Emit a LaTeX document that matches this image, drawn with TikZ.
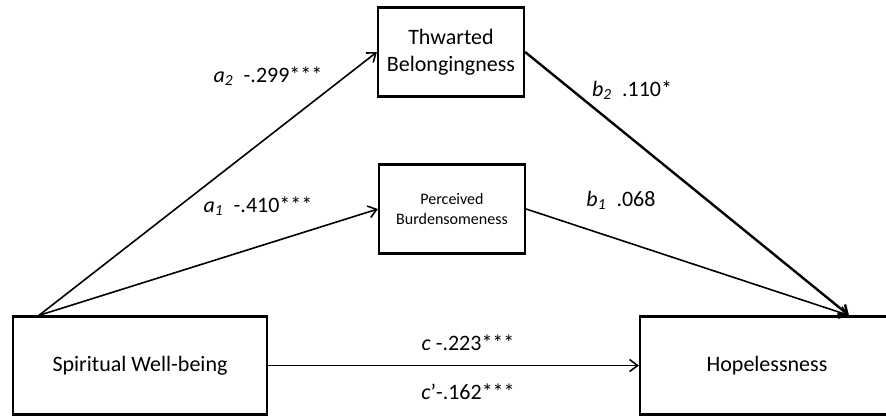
\documentclass[tikz,border=0pt]{standalone}
\usepackage{fontspec}
\setmainfont{Carlito}
\usetikzlibrary{positioning,arrows.meta}

\begin{document}
\begin{tikzpicture}[
				x=0.5pt, y=-0.5pt,
				box/.style={rectangle, draw=black, line width=1.1pt, align=center, inner sep=2pt, font=\fontsize{11}{13.5}\selectfont},
				bigbox/.style={box, minimum width=127pt, minimum height=49pt},
				midbox/.style={box, minimum width=73pt, minimum height=44.5pt},
				smallbox/.style={midbox, font=\fontsize{8}{10}\selectfont},
				coef/.style={inner sep=0pt, font=\fontsize{11}{13}\selectfont},
				link/.style={line width=0.8pt, -{Straight Barb[length=4pt, width=6pt]}}
			]
			\useasboundingbox (0,0) rectangle (886,418);
			\node[bigbox] (wellbeing) at (140,365.5) {Spiritual Well-being};
			\node[bigbox] (hopeless) at (767,365.5) {Hopelessness};
			\node[midbox] (thwarted) at (451,52) {Thwarted\\Belongingness};
			\node[smallbox] (burden) at (452,209) {Perceived\\Burdensomeness};
			\coordinate (src) at ([xshift=13.5pt]wellbeing.north west);
			\coordinate (dst) at ([xshift=41pt]hopeless.north);
			\node[coef] (a2) at (268,76) {\textit{a\textsubscript{2}}\ \ -.299***};
			\node[coef] (a1) at (258,206) {\textit{a\textsubscript{1}}\ \ -.410***};
			\node[coef] (b2) at (632,90) {\textit{b\textsubscript{2}}\ \ .110*};
			\node[coef] (b1) at (621,200) {\textit{b\textsubscript{1}}\ \ .068};
			\node[coef] (c) at (468,343) {\textit{c} -.223***};
			\node[coef] (cprime) at (468,392) {\textit{c}'-.162***};
			\draw[link] (src) -- (thwarted.west);
			\draw[link] (src) -- (burden.west);
			\draw[link, line width=1.2pt] (thwarted.east) -- (dst);
			\draw[link] (burden.east) -- (dst);
			\draw[link] (wellbeing.east) -- (hopeless.west);
			\end{tikzpicture}
\end{document}
